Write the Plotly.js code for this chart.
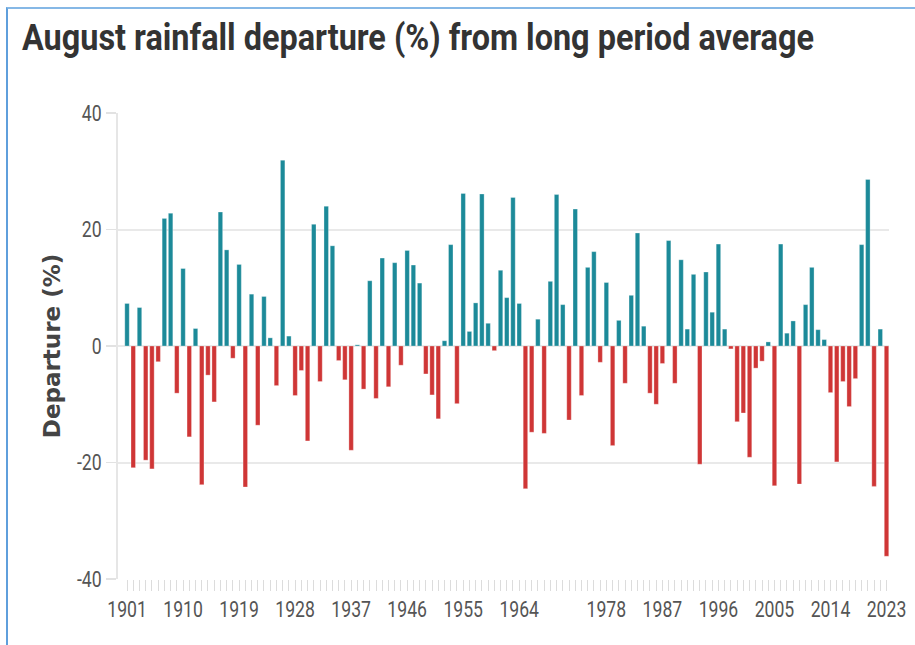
<!DOCTYPE html>
<html>
<head>
<meta charset="utf-8">
<script src="https://cdn.plot.ly/plotly-3.0.1.min.js"></script>
<style>
  html, body { margin: 0; padding: 0; background: #fff; }
  #chart { width: 915px; height: 645px; position: absolute; left: 0; top: 0; }
  #frame { position: absolute; left: 6px; top: 7px; width: 920px; height: 650px;
           border-left: 2px solid #5f9fdc; border-top: 2px solid #86b8e6; pointer-events: none; }
</style>
</head>
<body>
<div id="chart"></div>
<div id="frame"></div>
<script>
// Years 1901-2023
const years = [
  1901,1902,1903,1904,1905,1906,1907,1908,1909,1910,
  1911,1912,1913,1914,1915,1916,1917,1918,1919,1920,
  1921,1922,1923,1924,1925,1926,1927,1928,1929,1930,
  1931,1932,1933,1934,1935,1936,1937,1938,1939,1940,
  1941,1942,1943,1944,1945,1946,1947,1948,1949,1950,
  1951,1952,1953,1954,1955,1956,1957,1958,1959,1960,
  1961,1962,1963,1964,1965,1966,1967,1968,1969,1970,
  1971,1972,1973,1974,1975,1976,1977,1978,1979,1980,
  1981,1982,1983,1984,1985,1986,1987,1988,1989,1990,
  1991,1992,1993,1994,1995,1996,1997,1998,1999,2000,
  2001,2002,2003,2004,2005,2006,2007,2008,2009,2010,
  2011,2012,2013,2014,2015,2016,2017,2018,2019,2020,
  2021,2022,2023
];

// August rainfall departure (%) from LPA
const departure = [
   7.3,-20.9,  6.6,-19.6,-21.1, -2.7, 21.9, 22.8, -8.1, 13.3,
 -15.6,  3.0,-23.8, -5.0, -9.6, 23.0, 16.5, -2.1, 14.0,-24.2,
   8.9,-13.6,  8.5,  1.4, -6.8, 31.9,  1.7, -8.5, -4.2,-16.3,
  20.9, -6.1, 24.0, 17.2, -2.5, -5.8,-17.9,  0.2, -7.4, 11.2,
  -9.0, 15.1, -7.0, 14.3, -3.3, 16.4, 13.9, 10.8, -4.8, -8.4,
 -12.5,  0.9, 17.4, -9.9, 26.2,  2.5,  7.4, 26.1,  3.9, -0.8,
  13.0,  8.3, 25.5,  7.3,-24.5,-14.8,  4.6,-15.0, 11.1, 26.0,
   7.1,-12.7, 23.5, -8.5, 13.5, 16.2, -2.8, 10.9,-17.1,  4.4,
  -6.4,  8.7, 19.4,  3.4, -8.1,-10.0, -3.0, 18.1, -6.4, 14.8,
   2.9, 12.3,-20.3, 12.7,  5.8, 17.5,  2.9, -0.5,-13.0,-11.5,
 -19.1, -3.8, -2.6,  0.7,-24.0, 17.5,  2.2,  4.3,-23.7,  7.1,
  13.5,  2.8,  1.1, -8.0,-19.9, -6.1,-10.4, -5.6, 17.4, 28.6,
 -24.1,  2.9,-36.1
];

const xTickVals = [1901,1910,1919,1928,1937,1946,1955,1964,1978,1987,1996,2005,2014,2023];
const xTickText = ["1901","1910","1919","1928","1937","1946","1955","1964","1978","1987","1996","2005","2014","2023"];
const yTickVals = [-40,-20,0,20,40];
const yTickText = ["-40","-20","0","20","40"];

const posColor = "#1c8a99";
const negColor = "#cf3636";
const barColors = departure.map(v => v >= 0 ? posColor : negColor);

const trace = {
  type: "bar",
  x: years,
  y: departure,
  width: 0.72,
  marker: { color: barColors, line: { color: "rgba(255,255,255,0.6)", width: 0.5 } },
  hoverinfo: "x+y"
};

const tickFont = { family: "Roboto, 'Liberation Sans', sans-serif", size: 22, color: "#555" };

const layout = {
  width: 915,
  height: 645,
  margin: { l: 118, r: 26, t: 113, b: 66 },
  paper_bgcolor: "#ffffff",
  plot_bgcolor: "#ffffff",
  showlegend: false,
  bargap: 0,
  title: {
    text: "August rainfall departure (%) from long period average",
    x: 22 / 915, xanchor: "left", xref: "container",
    y: 1 - 37 / 645, yanchor: "middle", yref: "container",
    font: { family: "Roboto, 'Liberation Sans', sans-serif", size: 36, weight: 700, color: "#333" }
  },
  xaxis: {
    range: [1899.55, 2023.4],
    tickmode: "array",
    tickvals: xTickVals,
    ticktext: xTickText,
    ticks: "outside",
    ticklen: 11,
    tickwidth: 1,
    tickcolor: "#dcdcdc",
    minor: { tickmode: "array", tickvals: years, ticks: "outside", ticklen: 11, tickwidth: 1, tickcolor: "#dcdcdc" },
    showgrid: false,
    zeroline: false,
    showline: false,
    tickfont: tickFont,
    fixedrange: true
  },
  yaxis: {
    range: [-40, 40],
    tickmode: "array",
    tickvals: yTickVals,
    ticktext: yTickText,
    ticks: "outside",
    ticklen: 10,
    tickcolor: "#e2e2e2",
    tickwidth: 1.5,
    showgrid: true,
    gridcolor: "#e9e9e9",
    gridwidth: 2,
    zeroline: true,
    zerolinecolor: "#e9e9e9",
    zerolinewidth: 2,
    showline: true,
    linecolor: "#e6e6e6",
    linewidth: 2,
    tickfont: tickFont,
    title: {
      text: "Departure (%)",
      font: { family: "'DejaVu Sans', Verdana, sans-serif", size: 23, weight: 700, color: "#444" },
      standoff: 4
    },
    fixedrange: true
  }
};

function condense(gd) {
  gd.querySelectorAll(".xtick text, .ytick text").forEach(t => {
    const w = t.getComputedTextLength();
    t.setAttribute("textLength", (w * 0.8).toFixed(1));
    t.setAttribute("lengthAdjust", "spacingAndGlyphs");
  });
  const title = gd.querySelector(".gtitle");
  if (title) {
    title.setAttribute("textLength", "792");
    title.setAttribute("lengthAdjust", "spacingAndGlyphs");
  }
}

Plotly.newPlot("chart", [trace], layout, { displayModeBar: false, staticPlot: true })
  .then(gd => condense(gd));
</script>
</body>
</html>
